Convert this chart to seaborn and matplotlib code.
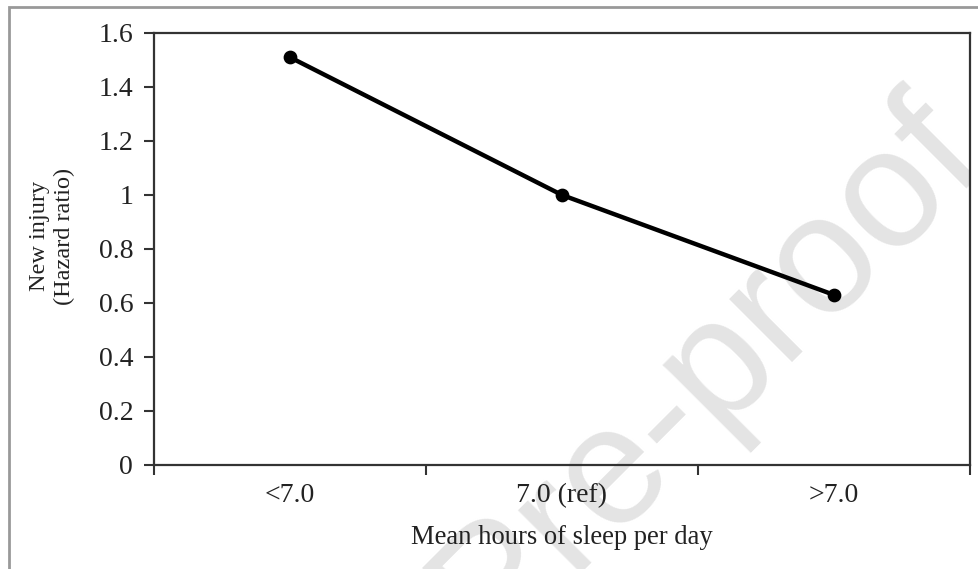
import matplotlib
matplotlib.use("Agg")
import matplotlib.pyplot as plt
import seaborn as sns
import pandas as pd
from matplotlib.patches import Rectangle
from matplotlib.ticker import FixedLocator

categories = ["<7.0", "7.0 (ref)", ">7.0"]
hazard_ratio = [1.51, 1.00, 0.63]
y_ticks = [0, 0.2, 0.4, 0.6, 0.8, 1, 1.2, 1.4, 1.6]
y_tick_labels = ["0", "0.2", "0.4", "0.6", "0.8", "1", "1.2", "1.4", "1.6"]

df = pd.DataFrame({"sleep": categories, "hr": hazard_ratio})

sns.set_theme(style="white")
plt.rcParams["font.family"] = ["Liberation Serif", "DejaVu Serif"]

fig = plt.figure(figsize=(9.79, 5.69), dpi=100)
ax = fig.add_axes([154/979, 1-465/569, (970-154)/979, (465-33)/569])

sns.pointplot(data=df, x="sleep", y="hr", color="black", markers="o",
              linestyles="-", ax=ax, linewidth=3.2, markersize=7.5)

ax.set_xlim(-0.5, 2.5)
ax.set_ylim(0, 1.6)
ax.set_yticks(y_ticks)
ax.set_yticklabels(y_tick_labels)
ax.set_xticks(range(len(categories)))
ax.set_xticklabels(categories)
ax.xaxis.set_minor_locator(FixedLocator([-0.5, 0.5, 1.5, 2.5]))
ax.tick_params(axis="x", which="major", length=0, pad=13, labelsize=20, labelcolor="#222222")
ax.tick_params(axis="x", which="minor", length=7, width=1.5, direction="out", color="#333333", bottom=True)
ax.tick_params(axis="y", which="major", length=7, width=1.5, direction="out", pad=8,
               labelsize=20, color="#333333", labelcolor="#222222", left=True)

for s in ax.spines.values():
    s.set_visible(True)
    s.set_color("#333333")
    s.set_linewidth(1.6)

ax.set_xlabel("Mean hours of sleep per day", fontsize=19.2, color="#222222", labelpad=12)
ax.set_ylabel("New injury\n(Hazard ratio)", fontsize=17.5, color="#222222", linespacing=1.2)
ax.yaxis.label.set_va("center")
ax.yaxis.set_label_coords((52-154)/816, (465-236)/432)

# watermark
clip = Rectangle((0, 0), 970/979, 1, transform=fig.transFigure, visible=False)
fig.add_artist(clip)
wm = ax.text(707/979, 1-372/569, "Pre-proof", transform=fig.transFigure, rotation=45,
             ha="center", va="center", fontsize=121, color="#e4e4e4",
             family="Liberation Sans", zorder=0.5)
wm.set_clip_path(clip)
wm.set_clip_on(True)

# figure frame
fig.add_artist(Rectangle((9/979, -0.1), 1.2, 1.1 - 7/569, transform=fig.transFigure,
                         fill=False, edgecolor="#999999", linewidth=2))

fig.savefig("out.png", dpi=100, facecolor="white")
